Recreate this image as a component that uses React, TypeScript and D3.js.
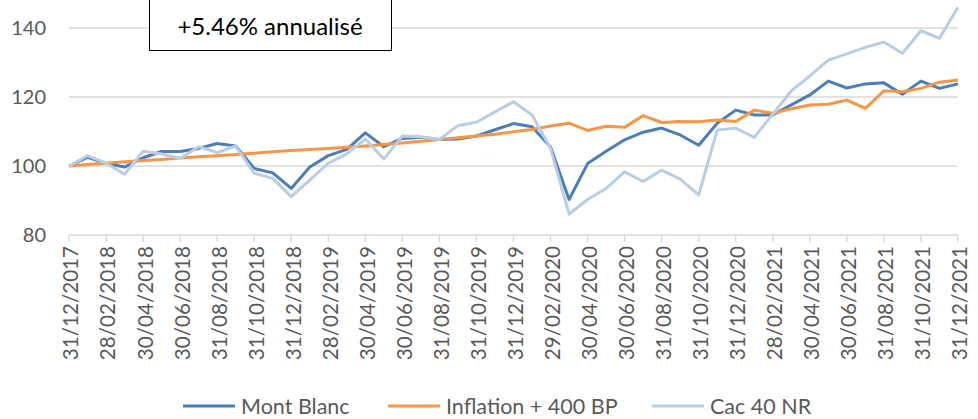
import * as d3 from "d3";

// month-end dates, 31/12/2017 .. 31/12/2021
const dates = [
  "31/12/2017", "31/01/2018", "28/02/2018", "31/03/2018", "30/04/2018", "31/05/2018",
  "30/06/2018", "31/07/2018", "31/08/2018", "30/09/2018", "31/10/2018", "30/11/2018",
  "31/12/2018", "31/01/2019", "28/02/2019", "31/03/2019", "30/04/2019", "31/05/2019",
  "30/06/2019", "31/07/2019", "31/08/2019", "30/09/2019", "31/10/2019", "30/11/2019",
  "31/12/2019", "31/01/2020", "29/02/2020", "31/03/2020", "30/04/2020", "31/05/2020",
  "30/06/2020", "31/07/2020", "31/08/2020", "30/09/2020", "31/10/2020", "30/11/2020",
  "31/12/2020", "31/01/2021", "28/02/2021", "31/03/2021", "30/04/2021", "31/05/2021",
  "30/06/2021", "31/07/2021", "31/08/2021", "30/09/2021", "31/10/2021", "30/11/2021",
  "31/12/2021",
];

const montBlanc = [
  100, 102.5, 100.8, 99.7, 102.4, 104.2, 104.2, 105.1, 106.5, 105.8, 99.3, 98.0,
  93.5, 99.7, 103.0, 104.8, 109.6, 105.6, 108.0, 108.3, 107.7, 107.8, 108.7, 110.5,
  112.3, 111.4, 105.5, 90.3, 100.7, 104.3, 107.6, 109.8, 111.0, 109.0, 106.0, 112.4,
  116.2, 114.8, 114.8, 117.7, 120.6, 124.6, 122.6, 123.8, 124.1, 120.8, 124.6, 122.5,
  123.8,
];

const inflation = [
  100.0, 100.4, 100.8, 101.2, 101.6, 101.9, 102.3, 102.7, 103.0, 103.3, 103.7, 104.1,
  104.5, 104.8, 105.1, 105.4, 105.8, 106.2, 106.7, 107.2, 107.7, 108.2, 108.7, 109.2,
  109.9, 110.6, 111.6, 112.4, 110.3, 111.5, 111.2, 114.6, 112.6, 112.9, 112.8, 113.3,
  112.9, 116.2, 115.3, 116.6, 117.7, 117.9, 119.1, 116.7, 121.8, 121.5, 122.5, 124.3,
  124.9,
];

const cac40 = [
  100, 103.0, 100.8, 97.6, 104.3, 103.5, 102.2, 105.6, 103.9, 105.8, 97.9, 96.4,
  91.1, 95.9, 100.8, 103.5, 107.8, 102.0, 108.7, 108.5, 107.7, 111.7, 112.7, 115.7,
  118.6, 114.8, 105.1, 86.1, 90.3, 93.5, 98.3, 95.5, 98.8, 96.2, 91.6, 110.4,
  111.0, 108.3, 115.0, 121.8, 126.1, 130.7, 132.5, 134.4, 135.9, 132.7, 139.2, 137.0,
  146.0,
];

const yTicks = [80, 100, 120, 140];

const series = [
  { name: "Mont Blanc", values: montBlanc, color: "#4a7ebb" },
  { name: "Inflation + 400 BP", values: inflation, color: "#f79646" },
  { name: "Cac 40 NR", values: cac40, color: "#b9cde5" },
];

const legendX = [183, 388, 652];

const W = 978;
const H = 419;
const font = "Lato, 'Open Sans', sans-serif";
const grey = "#595959";
const gridColor = "#d9d9d9";

export default function App() {
  const x = d3.scalePoint<string>().domain(dates).range([69, 958]);
  const y = d3.scaleLinear().domain([80, 140]).range([235, 28]);

  const line = d3
    .line<number>()
    .x((_, i) => x(dates[i]) as number)
    .y((d) => y(d));

  const labelDates = dates.filter((_, i) => i % 2 === 0);

  return (
    <div style={{ position: "absolute", left: 0, top: 0 }}>
      <svg width={W} height={H} style={{ display: "block", background: "#fff" }}>
        {/* grid */}
        {yTicks.map((t) => (
          <line key={t} x1={69} x2={958} y1={y(t)} y2={y(t)} stroke={gridColor} strokeWidth={1.5} />
        ))}
        {labelDates.map((d) => (
          <line key={d} x1={x(d)} x2={x(d)} y1={y(80)} y2={y(80) + 7} stroke={gridColor} strokeWidth={1.5} />
        ))}
        {yTicks.map((t) => (
          <text
            key={t}
            x={46}
            y={y(t)}
            dy="0.36em"
            textAnchor="end"
            fontFamily={font}
            fontSize={20}
            fill={grey}
          >
            {t}
          </text>
        ))}
        {labelDates.map((d) => (
          <text
            key={d}
            transform={`translate(${(x(d) as number) + 2},246) rotate(-90)`}
            dy="0.36em"
            textAnchor="end"
            fontFamily={font}
            fontSize={20.6}
            fill={grey}
          >
            {d}
          </text>
        ))}

        {series.map((s) => (
          <path
            key={s.name}
            d={line(s.values) as string}
            fill="none"
            stroke={s.color}
            strokeWidth={3}
            strokeLinejoin="round"
          />
        ))}

        {/* annotation */}
        <rect x={149.5} y={-2} width={242} height={52.5} fill="#fff" stroke="#000" strokeWidth={1} />
        <text x={270} y={35} textAnchor="middle" fontFamily={font} fontSize={24} fill="#000">
          +5.46% annualisé
        </text>

        {/* legend */}
        {series.map((s, i) => (
          <g key={s.name} transform={`translate(${legendX[i]},406)`}>
            <line x1={0} x2={52} y1={0} y2={0} stroke={s.color} strokeWidth={3} />
            <text x={58} y={0} dy="0.36em" fontFamily={font} fontSize={21.5} fill={grey}>
              {s.name}
            </text>
          </g>
        ))}
      </svg>
    </div>
  );
}
